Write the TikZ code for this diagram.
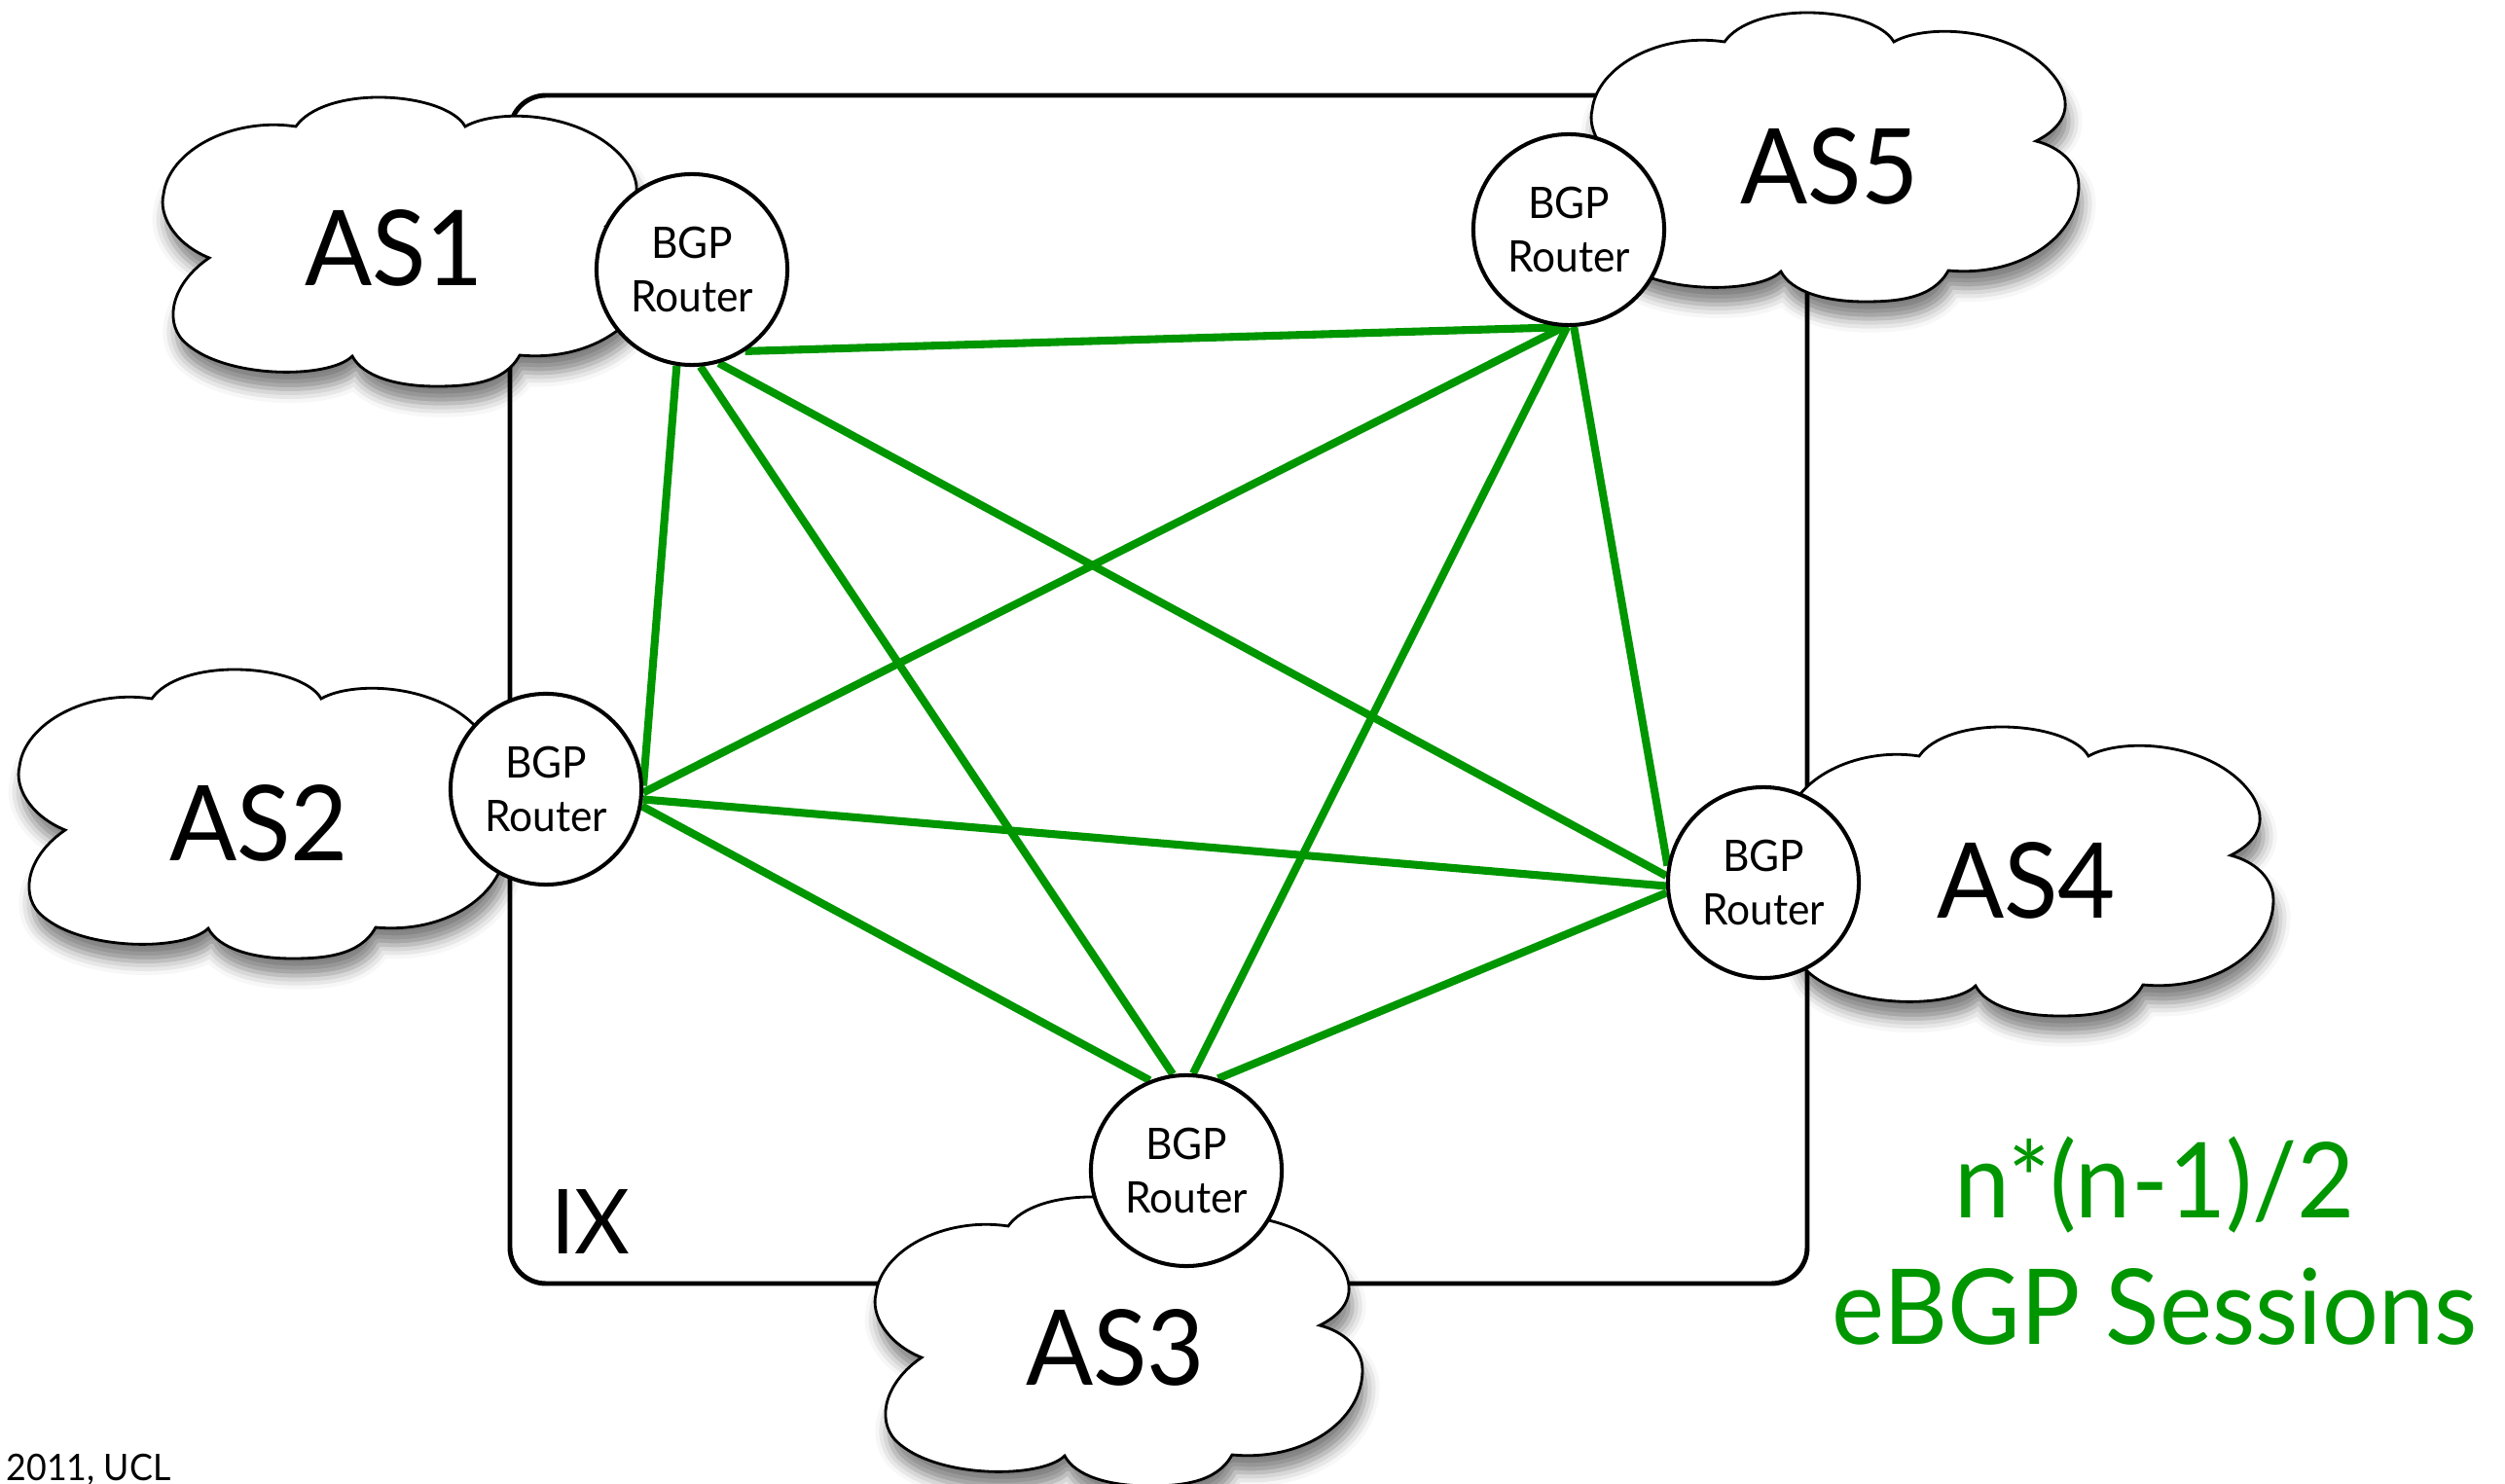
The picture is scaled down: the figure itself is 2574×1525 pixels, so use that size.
\documentclass[tikz,border=0pt]{standalone}
\usepackage{fontspec}
\setmainfont{Lato}[FakeStretch=0.95]
\usetikzlibrary{shadows.blur}
\definecolor{sessiongreen}{RGB}{0,150,0}
\pgfdeclarelayer{scenery}
\pgfdeclarelayer{links}
\pgfsetlayers{scenery,links,main}
\tikzset{
  cloudshape/.style={draw=black, line width=0.8pt, fill=white, line join=miter,
    blur shadow={shadow xshift=1pt, shadow yshift=-5pt, shadow blur radius=4pt, shadow opacity=50}},
  % autonomous-system cloud, 500 x 297 units, origin at its top-left corner
  ascloud/.pic={
    \path[cloudshape] (136,30)
      .. controls (150,10) and (185,0) .. (221,0)
      .. controls (262,0) and (300,12) .. (310,30)
      .. controls (345,10) and (440,15) .. (478,70)
      .. controls (492,92) and (490,115) .. (456,132)
      .. controls (480,138) and (500,155) .. (500,178)
      .. controls (500,230) and (440,272) .. (366,265)
      .. controls (350,295) and (310,297) .. (280,297)
      .. controls (240,297) and (205,287) .. (194,266)
      .. controls (170,290) and (60,290) .. (20,250)
      .. controls (0,228) and (10,190) .. (47,165)
      .. controls (10,150) and (-5,120) .. (0,100)
      .. controls (5,55) and (70,20) .. cycle;
  },
  aslabel/.style={font=\fontsize{30.6}{36}\selectfont, inner sep=0pt},
  router/.style={circle, draw=black, line width=1.15pt, fill=white,
    minimum size=1.96cm, inner sep=0pt, align=center,
    font=\fontsize{12.7}{15.6}\selectfont},
  session/.style={draw=sessiongreen, line width=2.3pt},
  ixbox/.style={draw=black, line width=1.4pt, rounded corners=0.37cm},
  note/.style={text=sessiongreen, font=\fontsize{30.6}{37}\selectfont, inner sep=0pt, anchor=base},
}
\begin{document}
\begin{tikzpicture}[x=0.01cm, y=-0.01cm]
  \useasboundingbox (0,0) rectangle (2574,1525);

  \begin{pgfonlayer}{scenery}
    % exchange point
    \draw[ixbox] (524,98) rectangle (1857,1319);
    % autonomous systems
    \pic at (168,100)  {ascloud};
    \pic at (20,688)   {ascloud};
    \pic at (900,1230) {ascloud};
    \pic at (1836,747) {ascloud};
    \pic at (1636,13)  {ascloud};
  \end{pgfonlayer}

  \node[font=\fontsize{26.2}{30}\selectfont, inner sep=0pt] (ix) at (607,1255) {IX};
  \node[aslabel] (as1) at (405,255)  {AS1};
  \node[aslabel] (as2) at (266,846)  {AS2};
  \node[aslabel] (as3) at (1146,1385) {AS3};
  \node[aslabel] (as4) at (2082,905) {AS4};
  \node[aslabel] (as5) at (1880,171) {AS5};

  % border routers
  \node[router] (r1) at (711,277)  {BGP\\Router};
  \node[router] (r2) at (561,811)  {BGP\\Router};
  \node[router] (r3) at (1219,1203) {BGP\\Router};
  \node[router] (r4) at (1812,907) {BGP\\Router};
  \node[router] (r5) at (1612,236) {BGP\\Router};

  % full mesh of eBGP sessions
  \begin{pgfonlayer}{links}
    \draw[session] (r1.-57) -- (r5.-90);
    \draw[session] (r1.-99) -- (r2.2);
    \draw[session] (r1.-85) -- (r3.98);
    \draw[session] (r1.-74) -- (r4.176);
    \draw[session] (r5.-93) -- (r2.-2);
    \draw[session] (r5.-91) -- (r3.86);
    \draw[session] (r5.-87) -- (r4.170);
    \draw[session] (r2.-6)  -- (r4.182);
    \draw[session] (r2.-10) -- (r3.112);
    \draw[session] (r3.71)  -- (r4.186);
  \end{pgfonlayer}

  \node[note] (count) at (2214,1252) {n*(n-1)/2};
  \node[note] (sessions) at (2214,1382) {eBGP Sessions};

  \node[font=\fontsize{10.7}{12}\selectfont, inner sep=0pt, anchor=base west] (credit) at (6,1522) {2011, UCL};
\end{tikzpicture}
\end{document}
